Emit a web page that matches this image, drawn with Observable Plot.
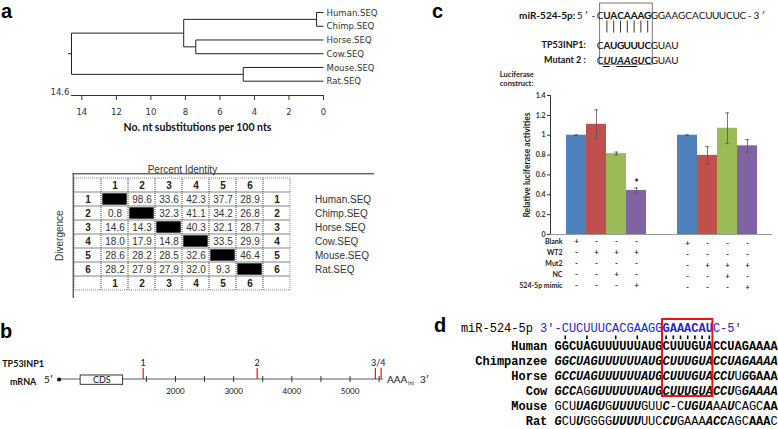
<!DOCTYPE html>
<html>
<head>
<meta charset="utf-8">
<script src="https://cdn.jsdelivr.net/npm/d3@7"></script>
<script src="https://cdn.jsdelivr.net/npm/@observablehq/plot@0.6"></script>
<style>
  html, body { margin: 0; padding: 0; background: #fff; }
  #fig { position: relative; width: 778px; height: 429px; overflow: hidden; background: #fff; }
  #fig > svg { position: absolute; left: 0; top: 0; }
  .panel-letter { position: absolute; font: bold 20px "Liberation Sans", Arial, sans-serif; line-height: 23px; height: 23px; color: #000; }
</style>
</head>
<body>
<div id="fig">
  <div class="panel-letter" style="left:1px;top:0px">a</div>
  <div class="panel-letter" style="left:0px;top:320px">b</div>
  <div class="panel-letter" style="left:432px;top:0px">c</div>
  <div class="panel-letter" style="left:434px;top:313.5px">d</div>
</div>
<script>
// ================= DATA =================
// Panel a — phylogenetic tree
const leafNames = ["Human.SEQ", "Chimp.SEQ", "Horse.SEQ", "Cow.SEQ", "Mouse.SEQ", "Rat.SEQ"];
const clusterIds = ["n1", "n2", "n3", "n4", "root"];
const clusterChildren = [["Human.SEQ", "Chimp.SEQ"], ["Horse.SEQ", "Cow.SEQ"], ["n1", "n2"], ["Mouse.SEQ", "Rat.SEQ"], ["n3", "n4"]];
const clusterHeights = [0.4, 7.4, 8.1, 4.65, 14.6];
const treeAxisTicks = [14, 12, 10, 8, 6, 4, 2, 0];
const treeDepth = 14.6;
const treeAxisTitle = "No. nt substitutions per 100 nts";

// Panel a — percent identity / divergence matrix
const seqNumbers = ["1", "2", "3", "4", "5", "6"];
const identityDivergence = [
  [null, 98.6, 33.6, 42.3, 37.7, 28.9],
  [0.8, null, 32.3, 41.1, 34.2, 26.8],
  [14.6, 14.3, null, 40.3, 32.1, 28.7],
  [18.0, 17.9, 14.8, null, 33.5, 29.9],
  [28.6, 28.2, 28.5, 32.6, null, 46.4],
  [28.2, 27.9, 27.9, 32.0, 9.3, null]
];

// Panel b — TP53INP1 mRNA map
const mrnaLength = 5575;
const cdsRange = [370, 1100];
const siteNames = ["1", "2", "3", "4"];
const sitePositions = [1445, 3404, 5436, 5534];
const rulerTicks = [1500, 2000, 2500, 3000, 3500, 4000, 4500, 5000, 5500];
const rulerLabels = [2000, 3000, 4000, 5000];

// Panel c — seed pairing
const cMirLabel = "miR-524-5p:";
const cMirSeq = "5′-CUACAAAGGGAAGCACUUUCUC-3′";
const cMirEmph = "NNNNBBBBBBBNNNNNNNNNNNNNNNNN";
const cTargetLabel = "TP53INP1:";
const cTargetSeq = "CAUGUUUCGUAU";
const cTargetEmph = "NBBBBBBBNNNN";
const cMutLabel = "Mutant 2 :";
const cMutSeq = "CUUAAGUCGUAU";
const cMutEmph = "NIIIIIIBNNNN";
const cTargetStart = 3;
const cMutatedSlots = [4, 6, 7, 8];
const cPairedSlots = [4, 5, 6, 7, 8, 9, 10];
const cSeedSlots = [4, 10];

// Panel c — luciferase assay
const barGroups = ["WT2", "Mut2"];
const conditions = ["Blank", "Construct", "Construct + NC", "Construct + 524-5p mimic"];
const wt2Means = [1.0, 1.11, 0.815, 0.443];
const wt2Errors = [0.003, 0.145, 0.015, 0.025];
const mut2Means = [1.0, 0.797, 1.07, 0.893];
const mut2Errors = [0.003, 0.088, 0.155, 0.064];
const wt2Significant = [false, false, false, true];
const mut2Significant = [false, false, false, false];
const barColors = ["#4f81bd", "#c0504d", "#9bbb59", "#8064a2"];
const yTicks = [0, 0.2, 0.4, 0.6, 0.8, 1, 1.2, 1.4];
const treatmentRows = ["Blank", "WT2", "Mut2", "NC", "524-5p mimic"];
const wt2Treatments = ["+---", "-+++", "----", "--+-", "---+"];
const mut2Treatments = ["+---", "----", "-+++", "--+-", "---+"];

// Panel d — conservation alignment
const mirLabel = "miR-524-5p";
const mirSequence = "3′-CUCUUUCACGAAGGGAAACAUC-5′";
const mirSeedRange = [17, 24];
const mirOffset = -2;
const utrSpecies = ["Human", "Chimpanzee", "Horse", "Cow", "Mouse", "Rat"];
const utrSequences = [
  "GGCUAGUUUUUUAUGCUUUGUACCUAGAAAA",
  "GGCUAGUUUUUUAUGCUUUGUACCUAGAAAA",
  "GCCUAGUUUUUUAUGCUUUGUACCUUGGAAA",
  "GCCAGGUUUUUUAUGCUUUGUACCUGGAAAA",
  "GCUUAGUGUUUUGUUC-CUGUAAAUCAGCAA",
  "GCUUGGGGUUUUUUCCUGAAAACCAGCAAAC"
];
const utrEmphasis = [
  "BBBBBBBBBBBBBBBBBBBBBBBBBBBBBBB",
  "IIIIIIIIIIIIIIIIIIIIIIIIIIIIIII",
  "IIIIIIIIIIIIIIIIIIIIIIIIINIBBBB",
  "IIINNIIIIIIIIIIIIIIIIIIIINIIIII",
  "NNNIIIINIIIINNNINNIIIINNINNNNBB",
  "INNINNNNIIIINNNIINNNNIIINNNBBBN"
];
const mirPairedSites = [1, 4, 8, 11, 15, 16, 17, 18, 19, 20, 21];
const mirSiteBox = [15, 22];
const boxedSpecies = ["Human", "Chimpanzee", "Horse", "Cow"];

// ================= HELPERS =================
const W = 778, H = 429;
const fig = document.getElementById("fig");
const LATO = "Lato, 'Open Sans', sans-serif";
const ARIAL = "'Liberation Sans', Arial, sans-serif";
const NARROW = "'Liberation Sans Narrow', 'Arial Narrow', 'DejaVu Sans Condensed', sans-serif";
const MONO = "'Liberation Mono', 'Courier New', 'DejaVu Sans Mono', monospace";
const STYLE = {
  N: {fontWeight: "normal", fontStyle: "normal"},
  B: {fontWeight: "bold", fontStyle: "normal"},
  I: {fontWeight: "bold", fontStyle: "italic"},
  J: {fontWeight: "normal", fontStyle: "italic"}
};
function add(svg) { fig.insertBefore(svg, fig.firstChild); }
function charsFor(row, seq, emph, start, color) {
  return Array.from(seq).map((ch, i) => ({row, pos: start + i, ch, style: emph[i], color}));
}
function charMarks(chars, opts) {
  return Object.keys(STYLE).map(k =>
    Plot.text(chars.filter(d => d.style === k), {x: d => d.pos + 0.5, y: "row", text: "ch", fill: "color", ...STYLE[k], ...opts}));
}

// ================= PANEL a: tree =================
const nodeY = new Map(leafNames.map((d, i) => [d, i]));
const nodeH = new Map(leafNames.map(d => [d, 0]));
const treeLinks = [];
clusterIds.forEach((id, k) => {
  const kids = clusterChildren[k], h = clusterHeights[k];
  const ys = kids.map(c => nodeY.get(c));
  nodeY.set(id, d3.mean(ys));
  nodeH.set(id, h);
  treeLinks.push({x1: h, x2: h, y1: d3.min(ys), y2: d3.max(ys)});
  kids.forEach(c => treeLinks.push({x1: h, x2: nodeH.get(c), y1: nodeY.get(c), y2: nodeY.get(c)}));
});
const rootNode = {h: nodeH.get("root"), y: nodeY.get("root")};

add(Plot.plot({
  width: W, height: H, marginLeft: 71, marginRight: 455, marginTop: 12, marginBottom: 334,
  style: {background: "transparent", fontFamily: NARROW, fontSize: "9.5px", color: "#333"},
  x: {domain: [treeDepth, 0], ticks: treeAxisTicks, tickSize: 5, tickPadding: 8, line: true, label: null},
  y: {domain: [0, leafNames.length - 1], range: [12, 80.7], axis: null},
  marks: [
    Plot.link(treeLinks, {x1: "x1", y1: "y1", x2: "x2", y2: "y2", stroke: "#222", strokeWidth: 1}),
    Plot.ruleY([rootNode], {x1: d => d.h, x2: d => d.h, y: d => d.y, insetLeft: -3, stroke: "#222"}),
    Plot.text(leafNames, {x: () => 0, y: (d, i) => i, text: d => d, textAnchor: "start", dx: 3, fill: "#333"}),
    Plot.text([treeDepth], {x: d => d, text: d => String(d), frameAnchor: "bottom", lineAnchor: "middle", textAnchor: "end", dx: -2, dy: -4, fill: "#333"}),
    Plot.text([treeAxisTitle], {frameAnchor: "bottom", lineAnchor: "middle", textAnchor: "middle", dy: 32, fontFamily: LATO, fontWeight: "bold", fontSize: 10.5, fill: "#111"})
  ]
}));

// ================= PANEL a: matrix =================
const mCols = ["left", ...seqNumbers, "right"];
const mRows = ["top", ...seqNumbers, "bottom"];
const gridCells = mRows.flatMap(r => mCols.map(c => ({r, c})));
const valueCells = [], diagCells = [], headerCells = [];
seqNumbers.forEach((rn, i) => seqNumbers.forEach((cn, j) => {
  const v = identityDivergence[i][j];
  if (v == null) diagCells.push({r: rn, c: cn}); else valueCells.push({r: rn, c: cn, v});
}));
seqNumbers.forEach(n => headerCells.push({r: "top", c: n, t: n}, {r: "bottom", c: n, t: n}, {r: n, c: "left", t: n}, {r: n, c: "right", t: n}));

add(Plot.plot({
  width: W, height: H, marginLeft: 72.7, marginRight: 405, marginTop: 173.3, marginBottom: 132,
  style: {background: "transparent", fontFamily: ARIAL, fontSize: "10px", color: "#333"},
  x: {type: "band", domain: mCols, range: [72.7, 290.7], padding: 0, axis: null},
  y: {type: "band", domain: mRows, range: [175.5, 293], padding: 0, axis: null},
  marks: [
    Plot.cell(gridCells, {x: "c", y: "r", fill: "none", stroke: "#666", strokeWidth: 0.8, strokeDasharray: "1,1", inset: 0}),
    Plot.cell(diagCells, {x: "c", y: "r", fill: "#000", inset: 1.3}),
    Plot.text(valueCells, {x: "c", y: "r", text: d => d.v.toFixed(1), fill: "#333"}),
    Plot.text(headerCells, {x: "c", y: "r", text: "t", fontWeight: "bold", fill: "#222"}),
    Plot.text(leafNames, {x: () => "right", y: (d, i) => seqNumbers[i], text: d => d, textAnchor: "start", dx: 38, fill: "#333"}),
    Plot.text(["Percent Identity"], {x: () => "4", y: () => "top", dx: -13.6, dy: -16, fill: "#333"}),
    Plot.text(["Divergence"], {frameAnchor: "left", textAnchor: "middle", lineAnchor: "middle", rotate: -90, dx: -13, fill: "#333"}),
    Plot.frame({anchor: "top", stroke: "#222"}),
    Plot.frame({anchor: "left", stroke: "#222"})
  ]
}));

// ================= PANEL b: mRNA =================
const siteLabels = [
  {t: siteNames[0], x: sitePositions[0]},
  {t: siteNames[1], x: sitePositions[1]},
  {t: siteNames[2] + "/" + siteNames[3], x: d3.mean(sitePositions.slice(2))}
];
add(Plot.plot({
  width: W, height: H, marginLeft: 58.6, marginRight: 395, marginTop: 366, marginBottom: 43,
  style: {background: "transparent", fontFamily: LATO, fontSize: "8px", color: "#111"},
  x: {domain: [0, mrnaLength], range: [58.6, 383], axis: null},
  marks: [
    Plot.rect([mrnaLength], {x1: () => 0, x2: d => d, insetTop: 12.3, insetBottom: 6.3, fill: "#8a8a8a"}),
    Plot.tickX(rulerTicks, {x: d => d, insetTop: 10, insetBottom: 4, stroke: "#333", strokeWidth: 1}),
    Plot.rect([cdsRange], {x1: d => d[0], x2: d => d[1], insetTop: 9, insetBottom: 1.7, fill: "#fff", stroke: "#222", strokeWidth: 0.9}),
    Plot.text(["CDS"], {x: () => d3.mean(cdsRange), frameAnchor: "middle", dy: 3.7, fontSize: 9}),
    Plot.tickX(sitePositions, {x: d => d, insetTop: 2, insetBottom: 7, stroke: "#e8141c", strokeWidth: 1.2}),
    Plot.text(siteLabels, {x: "x", text: "t", frameAnchor: "top", lineAnchor: "middle", dy: -3.5, fontSize: 9}),
    Plot.text(rulerLabels, {x: d => d, text: d => String(d), frameAnchor: "bottom", lineAnchor: "middle", dy: 5, fontSize: 8}),
    Plot.dot([0], {x: d => d, frameAnchor: "middle", dy: 3, r: 2, fill: "#000"}),
    Plot.text(["5′"], {x: () => 0, frameAnchor: "middle", dy: 3, dx: -10.6, fontSize: 10}),
    Plot.text(["TP53INP1\nmRNA"], {x: () => 0, frameAnchor: "middle", dx: -36, dy: -6.5, lineHeight: 2.05, fontSize: 9, fontWeight: "bold"}),
    Plot.text(["AAA"], {x: () => mrnaLength, frameAnchor: "middle", dy: 3, dx: 3.5, textAnchor: "start", fontSize: 10}),
    Plot.text(["(n)"], {x: () => mrnaLength, frameAnchor: "middle", dy: 6.5, dx: 27.5, fontSize: 5.5}),
    Plot.text(["3′"], {x: () => mrnaLength, frameAnchor: "middle", dy: 3, dx: 41, fontSize: 10})
  ]
}));

// ================= PANEL c: pairing =================
const cChars = [
  ...charsFor("mir", cMirSeq, cMirEmph, 0, "#111"),
  ...charsFor("tp", cTargetSeq, cTargetEmph, cTargetStart, "#111"),
  ...charsFor("mut", cMutSeq, cMutEmph, cTargetStart, "#111")
];
add(Plot.plot({
  width: W, height: H, marginLeft: 575.8, marginRight: 11.8, marginTop: 15, marginBottom: 368,
  style: {background: "transparent", fontFamily: LATO, fontSize: "10px", color: "#111"},
  x: {domain: [0, cMirSeq.length], range: [575.8, 575.8 + 6.8 * cMirSeq.length], axis: null},
  y: {type: "point", domain: ["mir", "pair", "tp", "mut"], range: [15, 60.7], padding: 0, axis: null},
  color: {type: "identity"},
  marks: [
    Plot.rect([cSeedSlots], {x1: d => d[0] - 0.5, x2: d => d[1] + 1.25, y1: () => "mir", y2: () => "mut", insetTop: -12, insetBottom: -4.3, fill: "none", stroke: "#777", strokeWidth: 1}),
    Plot.ruleX(cPairedSlots, {x: d => d + 0.5, y1: () => "mir", y2: () => "tp", insetTop: 5.5, insetBottom: 12.5, stroke: "#222", strokeWidth: 0.9}),
    ...charMarks(cChars, {}),
    Plot.ruleY(cMutatedSlots, {y: () => "mut", x1: d => d, x2: d => d + 1, dy: 6, stroke: "#111", strokeWidth: 1}),
    Plot.text([cMirLabel], {x: () => 0, y: () => "mir", textAnchor: "end", dx: -1, fontWeight: "bold", fontSize: 10}),
    Plot.text([cTargetLabel, cMutLabel], {x: () => cTargetStart, y: (d, i) => ["tp", "mut"][i], textAnchor: "end", dx: -11, fontWeight: "bold", fontSize: 9})
  ]
}));

// ================= PANEL c: bars =================
const barData = [];
barGroups.forEach((g, gi) => conditions.forEach((c, ci) => barData.push({
  group: g, condition: c,
  value: [wt2Means, mut2Means][gi][ci],
  err: [wt2Errors, mut2Errors][gi][ci],
  star: [wt2Significant, mut2Significant][gi][ci]
})));
add(Plot.plot({
  width: W, height: H, marginLeft: 550, marginRight: 6, marginTop: 95, marginBottom: 195,
  style: {background: "transparent", fontFamily: LATO, fontSize: "7px", fontWeight: "bold", color: "#333"},
  fx: {domain: barGroups, padding: 0, axis: null, label: null},
  x: {type: "band", domain: conditions, paddingInner: 0, paddingOuter: 0.775, axis: null},
  y: {domain: [0, 1.4], ticks: yTicks, tickFormat: "~g", tickSize: 3, tickPadding: 2, line: true, label: null},
  color: {domain: conditions, range: barColors},
  marks: [
    Plot.barY(barData, {fx: "group", x: "condition", y: "value", fill: "condition"}),
    Plot.ruleY([0], {stroke: "#999"}),
    Plot.ruleX(barData, {fx: "group", x: "condition", y1: d => d.value - d.err, y2: d => d.value + d.err, stroke: "#555", strokeWidth: 0.8}),
    Plot.tickY(barData, {fx: "group", x: "condition", y: d => d.value + d.err, insetLeft: 8, insetRight: 8, stroke: "#555", strokeWidth: 0.8}),
    Plot.tickY(barData, {fx: "group", x: "condition", y: d => d.value - d.err, insetLeft: 8, insetRight: 8, stroke: "#555", strokeWidth: 0.8}),
    Plot.text(barData.filter(d => d.star), {fx: "group", x: "condition", y: d => d.value + d.err, text: () => "*", dy: -5, fontSize: 11, fill: "#222"}),
    Plot.text(["Relative luciferase activities"], {fx: () => barGroups[0], frameAnchor: "left", textAnchor: "middle", lineAnchor: "middle", rotate: -90, dx: -23.3, fontSize: 8.5, fill: "#222"}),
    Plot.text(["Luciferase\nconstruct:"], {fx: () => barGroups[0], frameAnchor: "top-left", textAnchor: "start", lineAnchor: "middle", dx: -50.7, dy: -17, lineHeight: 1.27, fontSize: 7.5, fill: "#222"})
  ]
}));

// ================= PANEL c: treatment table =================
const treatCells = [];
[wt2Treatments, mut2Treatments].forEach((rows, gi) => rows.forEach((s, ri) => Array.from(s).forEach((sign, ci) =>
  treatCells.push({group: barGroups[gi], row: treatmentRows[ri], condition: conditions[ci], sign}))));
add(Plot.plot({
  width: W, height: H, marginLeft: 550, marginRight: 6, marginTop: 240, marginBottom: 142,
  style: {background: "transparent", fontFamily: LATO, fontSize: "7px", fontWeight: "bold", color: "#222"},
  fx: {domain: barGroups, padding: 0, axis: null, label: null},
  x: {type: "band", domain: conditions, paddingInner: 0, paddingOuter: 0.775, axis: null},
  y: {type: "point", domain: treatmentRows, range: [240, 286.7], padding: 0, axis: null},
  marks: [
    Plot.text(treatCells.filter(d => d.group === barGroups[0]), {fx: "group", x: "condition", y: "row", text: "sign", fontSize: 8}),
    Plot.text(treatCells.filter(d => d.group === barGroups[1]), {fx: "group", x: "condition", y: "row", text: "sign", fontSize: 8, dy: 2}),
    Plot.text(treatmentRows, {fx: () => barGroups[0], y: d => d, frameAnchor: "left", textAnchor: "end", lineAnchor: "middle", dx: 12, fontSize: 7})
  ]
}));

// ================= PANEL d: alignment =================
const mirChars = Array.from(mirSequence).map((ch, j) => ({
  row: "miR", pos: j + mirOffset, ch,
  style: (j >= mirSeedRange[0] && j < mirSeedRange[1]) ? "B" : "N", color: "#2424d0"
}));
const utrChars = [];
utrSequences.forEach((s, k) => utrChars.push(...charsFor(utrSpecies[k], s, utrEmphasis[k], 0, "#000")));
add(Plot.plot({
  width: W, height: H, marginLeft: 554, marginRight: 1, marginTop: 318, marginBottom: 6,
  style: {background: "transparent", fontFamily: MONO, fontSize: "12px", color: "#000"},
  x: {domain: [0, 31], range: [554, 554 + 7.2 * 31], axis: null},
  y: {type: "point", domain: ["miR", ...utrSpecies], range: [330, 421.5], padding: 0, axis: null},
  color: {type: "identity"},
  marks: [
    Plot.ruleX(mirPairedSites, {x: d => d + 0.5, y1: () => "miR", y2: () => utrSpecies[0], insetTop: 4.5, insetBottom: 6.8, stroke: "#000", strokeWidth: 1.6}),
    ...charMarks(mirChars, {dy: -3.5}),
    ...charMarks(utrChars, {}),
    Plot.text([mirLabel], {x: () => mirOffset, y: () => "miR", textAnchor: "end", dx: -7.2, dy: -3.5, fill: "#000"}),
    Plot.text(utrSpecies, {x: () => 0, y: d => d, textAnchor: "end", dx: -7.2, fontWeight: "bold", fill: "#000"}),
    Plot.rect([mirSiteBox], {x1: d => d[0], x2: d => d[1], y1: () => "miR", y2: () => boxedSpecies[boxedSpecies.length - 1], insetTop: -12, insetBottom: -5, fill: "none", stroke: "#e8141c", strokeWidth: 2})
  ]
}));
</script>
</body>
</html>
